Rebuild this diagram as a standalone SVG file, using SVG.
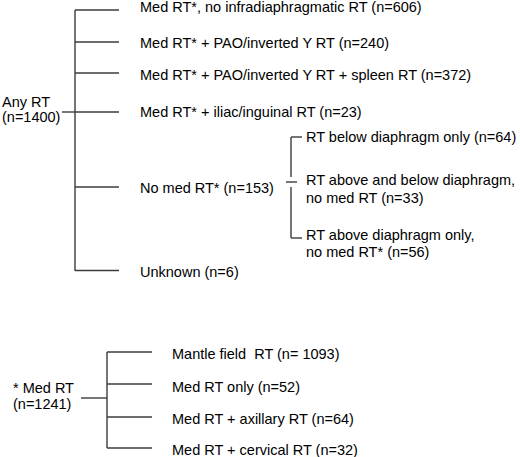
<svg xmlns="http://www.w3.org/2000/svg" width="520" height="457" viewBox="0 0 520 457">
<style>
text{font-family:"Liberation Sans",Arial,sans-serif;font-size:14.5px;fill:#000;white-space:pre}
.c line{stroke:#3c3c3c;stroke-width:1.4;fill:none}
</style>
<rect width="520" height="457" fill="#fff"/>
<g class="c" id="connectors">
<line x1="75" y1="10" x2="75" y2="271"/>
<line x1="62" y1="112" x2="75" y2="112"/>
<line x1="75" y1="10" x2="119" y2="10"/>
<line x1="75" y1="42" x2="119" y2="42"/>
<line x1="75" y1="73" x2="119" y2="73"/>
<line x1="75" y1="112" x2="119" y2="112"/>
<line x1="75" y1="187" x2="119" y2="187"/>
<line x1="75" y1="270.5" x2="119" y2="270.5"/>
<line x1="291" y1="137" x2="291" y2="177"/>
<line x1="291" y1="187" x2="291" y2="238"/>
<line x1="291" y1="137" x2="302" y2="137"/>
<line x1="286" y1="182" x2="297" y2="182"/>
<line x1="291" y1="238" x2="302" y2="238"/>
<line x1="107" y1="352" x2="107" y2="448"/>
<line x1="81" y1="398" x2="107" y2="398"/>
<line x1="107" y1="352" x2="152" y2="352"/>
<line x1="107" y1="384" x2="152" y2="384"/>
<line x1="107" y1="417" x2="152" y2="417"/>
<line x1="107" y1="448" x2="152" y2="448"/>
</g>
<g id="anyRT"><text x="2" y="106.5">Any RT</text><text x="2" y="122">(n=1400)</text></g>
<g id="n1"><text x="140" y="11.5">Med RT*, no infradiaphragmatic RT (n=606)</text></g>
<g id="n2"><text x="140" y="48">Med RT* + PAO/inverted Y RT (n=240)</text></g>
<g id="n3"><text x="140" y="80">Med RT* + PAO/inverted Y RT + spleen RT (n=372)</text></g>
<g id="n4"><text x="140" y="117">Med RT* + iliac/inguinal RT (n=23)</text></g>
<g id="n5"><text x="140" y="193">No med RT* (n=153)</text></g>
<g id="n6"><text x="140" y="277">Unknown (n=6)</text></g>
<g id="s1"><text x="306" y="142">RT below diaphragm only (n=64)</text></g>
<g id="s2"><text x="306" y="185">RT above and below diaphragm,</text><text x="306" y="203">no med RT (n=33)</text></g>
<g id="s3"><text x="306" y="240">RT above diaphragm only,</text><text x="306" y="257">no med RT* (n=56)</text></g>
<g id="medRT"><text x="13" y="393">* Med RT</text><text x="13" y="409">(n=1241)</text></g>
<g id="m1"><text x="172" y="359">Mantle field  RT (n= 1093)</text></g>
<g id="m2"><text x="172" y="391.5">Med RT only (n=52)</text></g>
<g id="m3"><text x="172" y="424">Med RT + axillary RT (n=64)</text></g>
<g id="m4"><text x="172" y="455">Med RT + cervical RT (n=32)</text></g>
</svg>
